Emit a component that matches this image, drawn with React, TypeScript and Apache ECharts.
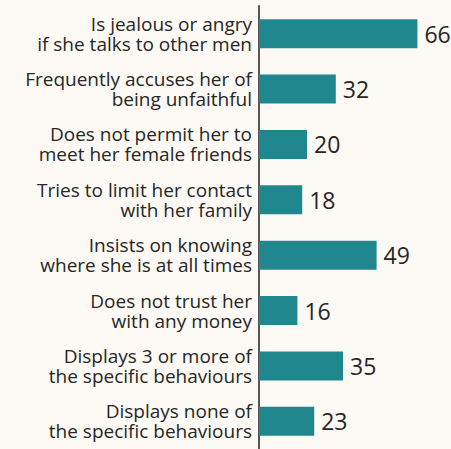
import React, { useEffect, useRef } from "react";
import * as echarts from "echarts";

const categories = [
  "Is jealous or angry\nif she talks to other men",
  "Frequently accuses her of\nbeing unfaithful",
  "Does not permit her to\nmeet her female friends",
  "Tries to limit her contact\nwith her family",
  "Insists on knowing\nwhere she is at all times",
  "Does not trust her\nwith any money",
  "Displays 3 or more of\nthe specific behaviours",
  "Displays none of\nthe specific behaviours",
];
const values = [66, 32, 20, 18, 49, 16, 35, 23];

export default function App() {
  const ref = useRef<HTMLDivElement>(null);
  useEffect(() => {
    if (!ref.current) return;
    const chart = echarts.init(ref.current, null, { renderer: "svg" });
    chart.setOption({
      animation: false,
      backgroundColor: "#fdfaf5",
      grid: { left: 259, right: 0, top: 6, bottom: -5, containLabel: false },
      xAxis: { type: "value", min: 0, max: 80, show: false },
      yAxis: {
        type: "category",
        inverse: true,
        data: categories,
        axisLine: { show: true, lineStyle: { color: "#555555", width: 2 } },
        axisTick: { show: false },
        axisLabel: {
          margin: 7,
          align: "right",
          fontFamily: "Open Sans",
          fontSize: 19,
          lineHeight: 20,
          color: "#262626",
        },
      },
      series: [
        {
          type: "bar",
          data: values,
          barWidth: 29,
          itemStyle: { color: "#21878f" },
          label: {
            show: true,
            position: "right",
            distance: 7,
            fontFamily: "Open Sans",
            fontSize: 23,
            color: "#262626",
          },
        },
      ],
    });
    return () => chart.dispose();
  }, []);
  return (
    <div
      ref={ref}
      style={{ position: "fixed", left: 0, top: 0, width: 451, height: 449 }}
    />
  );
}
